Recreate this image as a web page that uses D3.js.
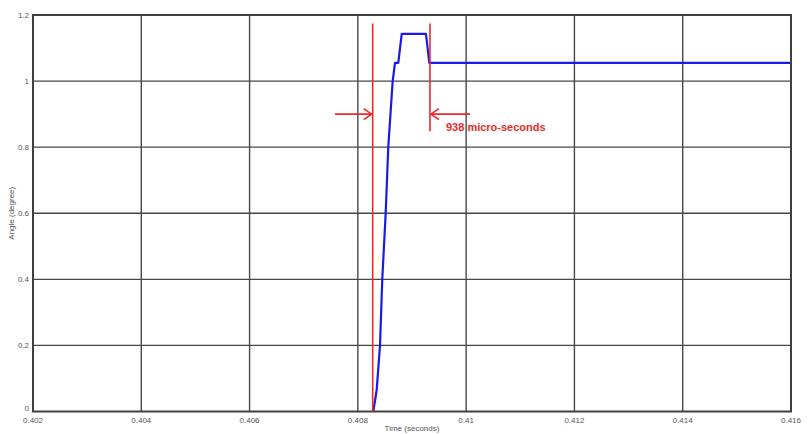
<!DOCTYPE html>
<html>
<head>
<meta charset="utf-8">
<script src="https://cdn.jsdelivr.net/npm/d3@7"></script>
<style>
    body { margin: 0; background: #fff; }
    svg { display: block; font-family: "Liberation Sans", Arial, sans-serif; }
</style>
</head>
<body>
<div id="chart"></div>
<script>
// Angle response (flat zero part before the rise sits under the axis)
const time_s = [0.408285, 0.408348, 0.408409, 0.408451, 0.408514, 0.408562, 0.408643, 0.408686, 0.408747, 0.40881, 0.409258, 0.40932, 0.416];
const angle_deg = [0, 0.065, 0.2, 0.4, 0.6, 0.8, 1.0, 1.055, 1.055, 1.143, 1.143, 1.055, 1.055];

const x_ticks = [0.402, 0.404, 0.406, 0.408, 0.41, 0.412, 0.414, 0.416];
const y_ticks = [0, 0.2, 0.4, 0.6, 0.8, 1, 1.2];

// Annotation markers (time, angle)
const marker_times = [0.408274, 0.409332];
const marker_tops = [1.174, 1.174];
const marker_bottoms = [0, 0.848];
const arrow_level = 0.9;
const arrow_from = [0.407578, 0.410071];
const annotation_text = '938 micro-seconds';

const attributes = {
    width: 808,
    height: 434,
    margin: { top: 15, right: 17, bottom: 22.5, left: 33 }
};

const svg = d3.select('#chart').append('svg')
    .attr('width', attributes.width)
    .attr('height', attributes.height);

const m = attributes.margin;
const x = d3.scaleLinear().domain([0.402, 0.416]).range([m.left, attributes.width - m.right]);
const y = d3.scaleLinear().domain([0, 1.2]).range([attributes.height - m.bottom, m.top]);

// grid
svg.append('g').selectAll('line')
    .data(x_ticks.slice(1, -1))
    .join('line')
    .attr('x1', d => x(d)).attr('x2', d => x(d))
    .attr('y1', y(0)).attr('y2', y(1.2))
    .attr('stroke', '#474747').attr('stroke-width', 1.4);

svg.append('g').selectAll('line')
    .data(y_ticks.slice(1, -1))
    .join('line')
    .attr('y1', d => y(d)).attr('y2', d => y(d))
    .attr('x1', x(0.402)).attr('x2', x(0.416))
    .attr('stroke', '#474747').attr('stroke-width', 1.4);

// tick labels
svg.append('g').selectAll('text')
    .data(x_ticks)
    .join('text')
    .attr('x', d => x(d))
    .attr('y', y(0) + 11)
    .attr('text-anchor', 'middle')
    .attr('font-size', 8)
    .attr('fill', '#555')
    .text(d => d3.format('.3~f')(d));

svg.append('g').selectAll('text')
    .data(y_ticks)
    .join('text')
    .attr('x', x(0.402) - 4)
    .attr('y', d => y(d) + (d === 0 ? -1 : 3))
    .attr('text-anchor', 'end')
    .attr('font-size', 8)
    .attr('fill', '#555')
    .text(d => d3.format('~g')(d));

// axis titles
svg.append('text')
    .attr('x', (x(0.402) + x(0.416)) / 2)
    .attr('y', 431)
    .attr('text-anchor', 'middle')
    .attr('font-size', 8)
    .attr('fill', '#555')
    .text('Time (seconds)');

svg.append('text')
    .attr('transform', 'translate(14,' + y(0.6) + ') rotate(-90)')
    .attr('text-anchor', 'middle')
    .attr('font-size', 8)
    .attr('fill', '#555')
    .text('Angle (degree)');

// response curve
const line = d3.line()
    .x((d, i) => x(time_s[i]))
    .y(d => y(d));

svg.append('path')
    .datum(angle_deg)
    .attr('d', line)
    .attr('fill', 'none')
    .attr('stroke', '#1a1ae6')
    .attr('stroke-width', 2.2)
    .attr('stroke-linejoin', 'round');

// frame on top of the curve
svg.append('rect')
    .attr('x', x(0.402)).attr('y', y(1.2))
    .attr('width', x(0.416) - x(0.402))
    .attr('height', y(0) - y(1.2))
    .attr('fill', 'none')
    .attr('stroke', '#404040').attr('stroke-width', 2);

// red markers
const red = '#ea2a2a';
svg.append('g').selectAll('line')
    .data(marker_times)
    .join('line')
    .attr('x1', d => x(d)).attr('x2', d => x(d))
    .attr('y1', (d, i) => y(marker_tops[i]))
    .attr('y2', (d, i) => y(marker_bottoms[i]))
    .attr('stroke', red).attr('stroke-width', 1.6);

const arrows = svg.append('g');
marker_times.forEach((t, i) => {
    const x0 = x(arrow_from[i]);
    const x1 = x(t) + (i === 0 ? -1 : 1);
    const yy = y(arrow_level);
    const dir = x1 > x0 ? 1 : -1;
    arrows.append('line')
        .attr('x1', x0).attr('x2', x1)
        .attr('y1', yy).attr('y2', yy)
        .attr('stroke', red).attr('stroke-width', 1.6);
    arrows.append('path')
        .attr('d', 'M' + (x1 - dir * 8) + ',' + (yy - 5.5) + 'L' + x1 + ',' + yy + 'L' + (x1 - dir * 8) + ',' + (yy + 5.5))
        .attr('fill', 'none')
        .attr('stroke', red).attr('stroke-width', 1.6);
});

svg.append('text')
    .attr('x', x(marker_times[1]) + 16)
    .attr('y', y(arrow_level) + 17)
    .attr('font-size', 11)
    .attr('font-weight', 'bold')
    .attr('fill', red)
    .text(annotation_text);
</script>
</body>
</html>
